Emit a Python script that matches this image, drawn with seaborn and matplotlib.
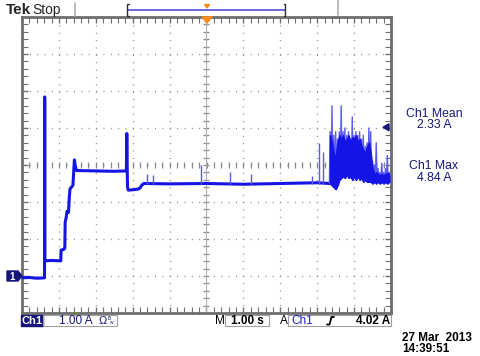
import numpy as np
import matplotlib
matplotlib.use("Agg")
import matplotlib.pyplot as plt
import seaborn as sns
from matplotlib.patches import Rectangle, Polygon
from matplotlib.ticker import MultipleLocator

# Main trace (time in s, current in A)
trace_t = [-5.00, -4.80, -4.60, -4.39, -4.385, -4.38, -4.37, -4.20, -3.95, -3.94,
           -3.87, -3.84, -3.83, -3.80, -3.78, -3.74, -3.72, -3.70, -3.66, -3.62,
           -3.58, -3.55, -3.52, -3.00, -2.50, -2.17, -2.16, -2.15, -2.14, -2.12,
           -2.00, -1.85, -1.80, -1.75, -1.70, -1.00, 0.00, 1.00, 2.00, 3.00, 3.33]
trace_a = [-0.05, -0.04, -0.06, -0.05, 4.84, 0.45, 0.41, 0.42, 0.41, 0.70,
           0.72, 0.75, 1.45, 1.60, 1.75, 1.72, 2.10, 2.35, 2.40, 2.45,
           3.14, 2.95, 2.85, 2.84, 2.83, 2.84, 3.85, 3.00, 2.40, 2.32,
           2.33, 2.35, 2.38, 2.46, 2.50, 2.49, 2.50, 2.48, 2.50, 2.52, 2.50]

# Burst at the end of the record: spike tops, dense band top, band bottom
burst_t = [3.35, 3.40, 3.45, 3.50, 3.55, 3.60, 3.65, 3.70, 3.75, 3.80, 3.85,
           3.90, 3.95, 4.00, 4.05, 4.10, 4.15, 4.20, 4.25, 4.30, 4.35, 4.40,
           4.45, 4.50, 4.55, 4.60, 4.65, 4.70, 4.75, 4.80, 4.85, 4.90, 4.95]
burst_hi = [3.9, 4.6, 3.8, 3.9, 3.7, 3.9, 4.6, 3.9, 4.0, 3.8, 3.9,
            3.7, 4.3, 3.8, 3.9, 3.8, 3.9, 3.7, 3.8, 3.5, 3.6, 4.0,
            3.9, 3.1, 3.0, 3.6, 2.9, 2.8, 3.05, 2.8, 2.9, 3.25, 2.8]
burst_core = [3.8, 3.6, 3.3, 3.2, 3.6, 3.8, 3.7, 3.8, 3.6, 3.7, 3.8,
              3.6, 3.75, 3.7, 3.8, 3.6, 3.7, 3.5, 3.4, 3.3, 3.5, 3.6,
              3.3, 2.9, 2.75, 2.8, 2.75, 2.72, 2.75, 2.72, 2.75, 2.78, 2.75]
burst_lo = [2.5, 2.45, 2.4, 2.35, 2.45, 2.6, 2.65, 2.7, 2.65, 2.75, 2.65,
            2.7, 2.6, 2.7, 2.6, 2.7, 2.6, 2.65, 2.55, 2.6, 2.55, 2.55,
            2.55, 2.5, 2.55, 2.5, 2.55, 2.5, 2.55, 2.5, 2.55, 2.5, 2.55]

# Isolated glitches on the flat part
spike_t = [-1.60, -1.45, -0.15, 0.65, 1.20, 2.85, 3.05, 3.15]
spike_top = [2.75, 2.72, 3.00, 2.80, 2.76, 2.70, 3.60, 3.35]
spike_base = 2.5

ch1_mean = "2.33 A"
ch1_max = "4.84 A"
trig_level = 4.02

sns.set_style("white")
plt.rcParams["font.family"] = ["Liberation Sans", "DejaVu Sans"]

W, H = 481, 356
fig = plt.figure(figsize=(W / 100, H / 100), dpi=100)
fig.patch.set_facecolor("white")

gl, gr, gt, gb = 22, 391, 17, 313
ax = fig.add_axes([gl / W, 1 - gb / H, (gr - gl) / W, (gb - gt) / H])
ax.set_xlim(-5, 5)
ax.set_ylim(-1, 7)

grid_c = "#8a8a8a"
for xv in range(-4, 5):
    ax.axvline(xv, color=grid_c, lw=1.0, ls=(0, (0.7, 4.6)), zorder=1)
for yv in range(0, 7):
    ax.axhline(yv, color=grid_c, lw=1.0, ls=(0, (0.7, 4.6)), zorder=1)

# centre crosshair tick marks
cx = np.arange(-5, 5.01, 0.2)
cy = np.arange(-1, 7.01, 0.2)
ax.plot(cx, np.full_like(cx, 3.0), ls="none", marker="|", ms=4, mew=0.9, color=grid_c, zorder=1)
ax.plot(np.zeros_like(cy), cy, ls="none", marker="_", ms=4, mew=0.9, color=grid_c, zorder=1)
ax.axvline(0, color="#b0b0b0", lw=0.8, zorder=1)

ax.xaxis.set_major_locator(MultipleLocator(1))
ax.yaxis.set_major_locator(MultipleLocator(1))
ax.xaxis.set_minor_locator(MultipleLocator(0.2))
ax.yaxis.set_minor_locator(MultipleLocator(0.2))
ax.tick_params(which="both", direction="in", top=True, right=True, bottom=True, left=True,
               labelbottom=False, labelleft=False, color="#707070")
ax.tick_params(which="major", length=4, width=1)
ax.tick_params(which="minor", length=4, width=0.8)
for s in ax.spines.values():
    s.set_color("#6e6e6e")
    s.set_linewidth(2)

blue = "#1414e6"
light = "#5a5af2"
sns.lineplot(x=trace_t, y=trace_a, ax=ax, sort=False, estimator=None,
             color=blue, lw=2.2, zorder=3)

zz_t, zz_a = [], []
for t, hi, lo in zip(burst_t, burst_hi, burst_lo):
    zz_t += [t, t + 0.025]
    zz_a += [hi, lo]
sns.lineplot(x=[3.33] + zz_t, y=[2.5] + zz_a, ax=ax, sort=False, estimator=None,
             color=light, lw=1.0, zorder=3)
ax.fill_between(burst_t, burst_lo, burst_core, color=blue, lw=1.2, ec=blue, zorder=4)
ax.vlines(spike_t, spike_base, spike_top, color=light, lw=1.0, zorder=3)

# overlay in pixel coordinates for the scope annotations
ov = fig.add_axes([0, 0, 1, 1], zorder=5)
ov.set_xlim(0, W)
ov.set_ylim(H, 0)
ov.axis("off")
ov.patch.set_alpha(0)

navy = "#16167a"
ov.text(6, 10, "Tek", fontsize=11, fontweight="bold", va="center", ha="left")
ov.text(32, 10, "Stop", fontsize=10, va="center", ha="left")
ov.plot([75, 75], [3, 16], color="#b0b0b0", lw=1.2)
ov.plot([338, 338], [0, 15], color="#b0b0b0", lw=1.2)
ov.plot([128, 285], [10, 10], color="#5050d0", lw=1.2)
ov.plot([129, 127.5, 127.5, 129], [4, 4, 16, 16], color="#303030", lw=1)
ov.plot([284, 285.5, 285.5, 284], [4, 4, 16, 16], color="#303030", lw=1)
ov.add_patch(Polygon([[204.5, 4.5], [209.5, 4.5], [207, 8]], color="#ff8c1a"))
ov.add_patch(Polygon([[202, 17], [212, 17], [207, 23]], color="#ff8c1a"))

# channel ground marker and trigger level arrow
ov.add_patch(Polygon([[7, 271], [18, 271], [22, 276], [18, 281], [7, 281]], color=navy))
ov.text(12, 276.5, "1", color="white", fontsize=7, fontweight="bold", ha="center", va="center")
trig_y = 276 - trig_level * 37
ov.add_patch(Polygon([[383, trig_y], [389, trig_y - 3.5], [389, trig_y + 3.5]], color=navy))

ov.text(434, 114, "Ch1 Mean", color=navy, fontsize=8.8, ha="center", va="center")
ov.text(434, 125, ch1_mean, color=navy, fontsize=8.8, ha="center", va="center")
ov.text(434, 166, "Ch1 Max", color=navy, fontsize=8.8, ha="center", va="center")
ov.text(434, 178, ch1_max, color=navy, fontsize=8.8, ha="center", va="center")

# bottom status bar
ov.add_patch(Rectangle((21, 315), 22, 11, color=navy))
ov.text(32, 320.5, "Ch1", color="white", fontsize=8, fontweight="bold", ha="center", va="center")
ov.add_patch(Rectangle((43, 315), 74, 11, fill=False, ec="#a0a0a0", lw=0.8))
ov.text(59, 320.5, "1.00 A", color=navy, fontsize=8.5, ha="left", va="center")
ov.text(99, 320.5, "\u03a9", color=navy, fontsize=8, ha="left", va="center")
ov.text(108, 318, "B", color=navy, fontsize=3.5, ha="left", va="center")
ov.text(109, 323, "w", color=navy, fontsize=3.5, ha="left", va="center")

ov.text(215, 320.5, "M", color="black", fontsize=8.5, ha="left", va="center")
ov.add_patch(Rectangle((225, 315), 44, 11, fill=False, ec="#a0a0a0", lw=0.8))
ov.text(247, 320.5, "1.00 s", color="black", fontsize=8.5, fontweight="bold", ha="center", va="center")
ov.text(280, 320.5, "A", color="black", fontsize=8.5, ha="left", va="center")
ov.add_patch(Rectangle((288, 315), 103, 11, fill=False, ec="#a0a0a0", lw=0.8))
ov.text(291, 320.5, "Ch1", color="#2020c0", fontsize=8.5, ha="left", va="center")
ov.plot([327, 329.5, 331.5, 334], [324.5, 324.5, 317, 317], color="black", lw=1.3)
ov.text(390, 320.5, f"{trig_level:.2f} A", color="black", fontsize=8.5, fontweight="bold",
        ha="right", va="center")

ov.text(402, 338, "27 Mar  2013", color="black", fontsize=8.5, fontweight="bold", ha="left", va="center")
ov.text(402, 349.5, "14:39:51", color="black", fontsize=8.5, fontweight="bold", ha="left", va="center")

fig.savefig("out.png", dpi=100)
